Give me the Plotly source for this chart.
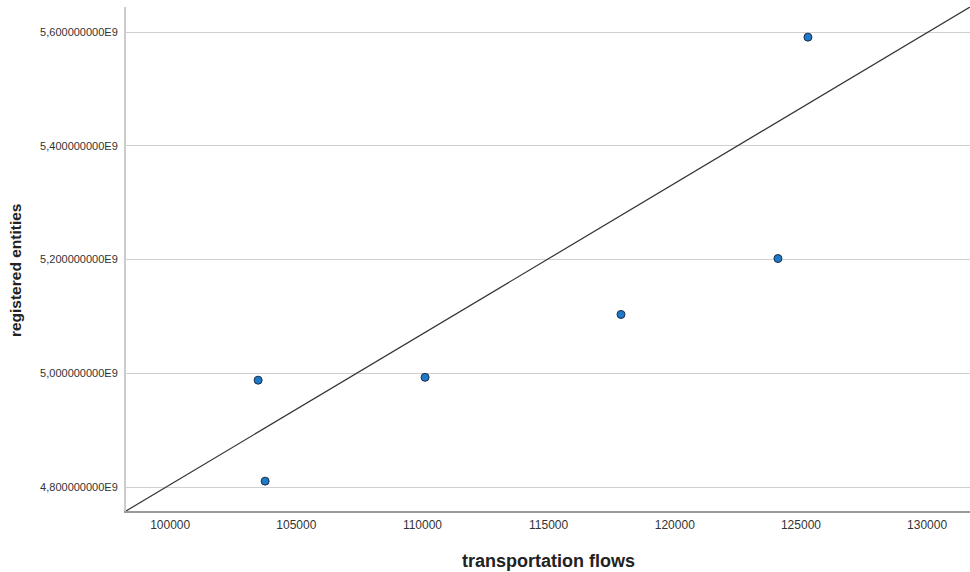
import plotly.graph_objects as go

# Data
transport_flows = [103487, 103764, 110103, 117868, 124089, 125277]
registered_entities = [4.988e9, 4.8105e9, 4.993e9, 5.1035e9, 5.2018e9, 5.591e9]

x_ticks = [100000, 105000, 110000, 115000, 120000, 125000, 130000]
x_tick_labels = ["100000", "105000", "110000", "115000", "120000", "125000", "130000"]
y_ticks = [4.8e9, 5.0e9, 5.2e9, 5.4e9, 5.6e9]
y_tick_labels = ["4,800000000E9", "5,000000000E9", "5,200000000E9", "5,400000000E9", "5,600000000E9"]

x_range = [98250, 131700]
y_range = [4.758e9, 5.644e9]

# Reference line endpoints (corner to corner of the plot area)
ref_line_x = [98250, 131700]
ref_line_y = [4.758e9, 5.644e9]

fig = go.Figure()
fig.add_trace(go.Scatter(
    x=ref_line_x, y=ref_line_y, mode="lines",
    line=dict(color="#333333", width=1.2),
    hoverinfo="skip", showlegend=False,
))
fig.add_trace(go.Scatter(
    x=transport_flows, y=registered_entities, mode="markers",
    marker=dict(size=8, color="#1f78c8", line=dict(color="#1a2f4a", width=1)),
    showlegend=False,
))

fig.update_layout(
    width=970, height=572,
    margin=dict(l=126, r=0, t=7, b=61),
    paper_bgcolor="white", plot_bgcolor="white",
    font=dict(family="Liberation Sans, Arial, sans-serif", color="#333333"),
    xaxis=dict(
        range=x_range, tickvals=x_ticks, ticktext=x_tick_labels,
        showgrid=False, zeroline=False, automargin=False,
        showline=True, linecolor="#9a9a9a", linewidth=1.5,
        ticks="", ticklabelstandoff=2, tickfont=dict(size=12, color="#333333"),
    ),
    yaxis=dict(
        range=y_range, tickvals=y_ticks, ticktext=y_tick_labels,
        showgrid=True, gridcolor="#cfcfcf", gridwidth=1,
        zeroline=False, automargin=False,
        showline=True, linecolor="#cccccc", linewidth=2,
        ticks="", ticklabelstandoff=4, tickfont=dict(size=11, color="#333333"),
    ),
    annotations=[
        dict(text="<b>transportation flows</b>", xref="paper", yref="paper",
             x=0.5, y=0, xanchor="center", yanchor="middle", yshift=-50,
             showarrow=False, font=dict(size=18, color="#222222")),
        dict(text="<b>registered entities</b>", xref="paper", yref="paper",
             x=0, y=0.478, xshift=-111, xanchor="center", yanchor="middle",
             textangle=-90, showarrow=False, font=dict(size=15.5, color="#222222")),
    ],
)

fig.write_html("out.html", config={"displayModeBar": False},
               post_script="document.body.style.margin='0';")
